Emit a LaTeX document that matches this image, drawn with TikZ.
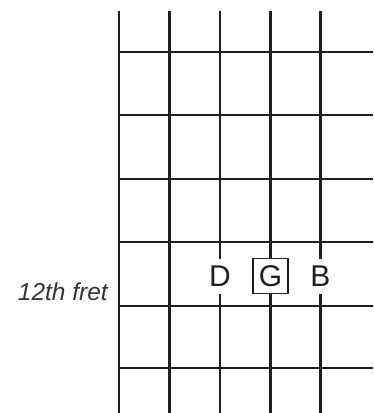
\documentclass[tikz,border=0pt]{standalone}
\usepackage{fontspec}
\setmainfont{Liberation Sans}
\begin{document}
\begin{tikzpicture}[x=1pt,y=-1pt,
  gridline/.style={line width=2.2pt,color=black!88},
  notelabel/.style={fill=white,inner sep=0pt,minimum width=35pt,minimum height=35pt,font=\fontsize{30}{30}\selectfont,text=black!88},
  rootbox/.style={notelabel,draw=black!88,line width=1.1pt},
  fretlabel/.style={anchor=east,inner sep=0pt,font=\fontsize{24.5}{24.5}\selectfont\itshape,text=black!80}]
\useasboundingbox (0,0) rectangle (373,413);
% strings
\foreach \x/\n in {119/s1,169.5/s2,220/s3,270.5/s4,320.5/s5}{
  \coordinate (\n t) at (\x,11);
  \coordinate (\n b) at (\x,413);
  \draw[gridline] (\n t) -- (\n b);
}
% frets
\foreach \y/\n in {52/f1,115/f2,179/f3,242/f4,306/f5,368/f6}{
  \coordinate (\n l) at (118,\y);
  \coordinate (\n r) at (373,\y);
  \draw[gridline] (\n l) -- (\n r);
}
\node[notelabel] (D) at (220,276) {D};
\node[rootbox] (G) at (270.5,276) {G};
\node[notelabel] (B) at (320.5,276) {B};
\node[fretlabel] (fret) at (108,291.5) {12th fret};
\end{tikzpicture}
\end{document}
